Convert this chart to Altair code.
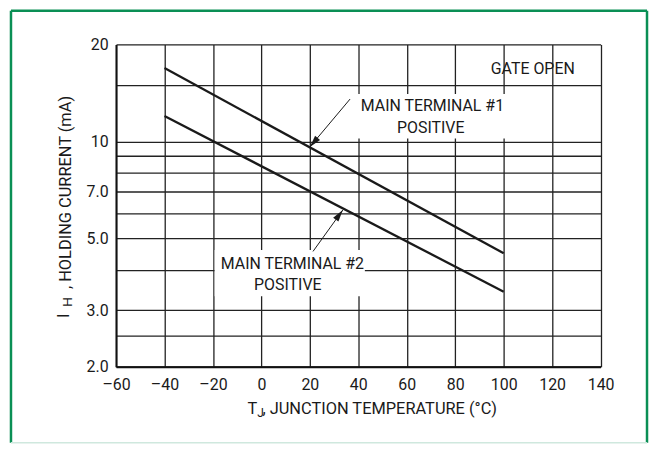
import altair as alt
import pandas as pd

# ---- data ----
temps = [-40, 100]
mt1_current = [16.9, 4.5]
mt2_current = [12.0, 3.42]

x_ticks = [-60, -40, -20, 0, 20, 40, 60, 80, 100, 120, 140]
y_grid = [2, 2.5, 3, 4, 5, 6, 7, 8, 9, 10, 15, 20]

label_text = ["GATE OPEN", "MAIN TERMINAL #1", "POSITIVE", "MAIN TERMINAL #2", "POSITIVE"]
label_t = [112.0, 70.6, 69.9, 12.8, 10.9]
label_i = [16.2, 12.39, 10.6, 4.02, 3.455]

box_t = [37.7, -19.3]
box_t2 = [101.3, 42.7]
box_i = [14.05, 4.61]
box_i2 = [10.21, 3.31]

lead_t = [36.6, 21.3]
lead_i = [13.54, 4.56]
tip_t = [20.0, 33.6]
tip_i = [9.62, 6.13]
tip_angle = [220.4, 36.2]

FONT = "Roboto"
INK = "#1a1a1a"
GREEN = "#0a8f55"

W, H = 487.6, 324.4
PAD = {"left": 108.7, "top": 35.3, "right": 48.7, "bottom": 77.3}

xs = alt.Scale(domain=[-60, 140], nice=False, zero=False)
ys = alt.Scale(type="log", domain=[2, 20], nice=False)

x_axis = alt.Axis(
    values=x_ticks, title=None, grid=True, gridColor="#222222", gridWidth=1.3,
    ticks=False, domainColor="#111111", domainWidth=2,
    labelFont=FONT, labelFontSize=16, labelColor=INK, labelPadding=10,
    labelFlush=False, labelOverlap=False,
    labelExpr="datum.value < 0 ? '\u2013' + (-datum.value) : '' + datum.value",
)
y_axis = alt.Axis(
    values=y_grid, title=None, grid=True, gridColor="#222222", gridWidth=1.3,
    ticks=False, domainColor="#111111", domainWidth=2,
    labelFont=FONT, labelFontSize=16, labelColor=INK, labelPadding=8,
    labelFlush=False, labelOverlap=False,
    labelExpr="datum.value == 20 ? '20' : datum.value == 10 ? '10' : datum.value == 7 ? '7.0' : "
              "datum.value == 5 ? '5.0' : datum.value == 3 ? '3.0' : datum.value == 2 ? '2.0' : ''",
)


def X(f="t"):
    return alt.X(f + ":Q", scale=xs, axis=x_axis)


def Y(f="i"):
    return alt.Y(f + ":Q", scale=ys, axis=y_axis)


lines_df = pd.DataFrame({
    "t": temps + temps,
    "i": mt1_current + mt2_current,
    "s": ["MT1"] * len(temps) + ["MT2"] * len(temps),
})
labels_df = pd.DataFrame({"t": label_t, "i": label_i, "txt": label_text})
boxes_df = pd.DataFrame({"t": box_t, "t2": box_t2, "i": box_i, "i2": box_i2})
leaders_df = pd.DataFrame({"t": lead_t, "i": lead_i, "t2": tip_t, "i2": tip_i})
tips_df = pd.DataFrame({"t": tip_t, "i": tip_i, "ang": tip_angle})

lines = alt.Chart(lines_df).mark_line(color=INK, strokeWidth=2.3).encode(
    x=X(), y=Y(), detail="s:N"
)
boxes = alt.Chart(boxes_df).mark_rect(fill="white", stroke=None).encode(
    x=X(), x2="t2:Q", y=Y(), y2="i2:Q"
)
labels = alt.Chart(labels_df).mark_text(
    font=FONT, fontSize=16, color=INK, align="center", baseline="alphabetic"
).encode(x=X(), y=Y(), text="txt:N")
leaders = alt.Chart(leaders_df).mark_rule(color=INK, strokeWidth=1).encode(
    x=X(), y=Y(), x2="t2:Q", y2="i2:Q"
)
tips = alt.Chart(tips_df).mark_point(
    shape="M0,0 L-0.55,2 L0.55,2 Z", size=144, filled=True, color=INK,
    opacity=1, strokeWidth=0
).encode(x=X(), y=Y(), angle=alt.Angle("ang:Q", scale=None))

one = pd.DataFrame({"k": [0]})


def ptext(txt, px, py, size=16, angle=0):
    return alt.Chart(one).mark_text(
        font=FONT, fontSize=size, color=INK, align="left", baseline="alphabetic",
        angle=angle
    ).encode(x=alt.value(px), y=alt.value(py), text=alt.value(txt))


titles = [
    ptext("T", 132.3, 371.7, size=16.5),
    ptext("J", 142.0, 375.2, size=12),
    ptext(", JUNCTION TEMPERATURE (\u00b0C)", 147.3, 371.7, size=16.5),
    ptext("I", -47.2, 275.2, size=16.5, angle=270),
    ptext("H", -44.0, 264.0, size=13.5, angle=270),
    ptext(", HOLDING CURRENT (mA)", -45.7, 246.2, size=16.5, angle=270),
]


def prule(x1, y1, x2, y2, color=GREEN, w=2.5):
    return alt.Chart(one).mark_rule(color=color, strokeWidth=w).encode(
        x=alt.value(x1), y=alt.value(y1), x2=alt.value(x2), y2=alt.value(y2)
    )


L, R, T, B = -105.7, 534.3, -33.8, 400.7
border = [
    prule(L, T, R, T),
    prule(L, T, L, B),
    prule(R, T, R, B),
    prule(L, B, R, B, color="#cfe8de", w=1.5),
]

chart = alt.layer(
    lines, boxes, labels, leaders, tips, *titles, *border
).properties(
    width=W, height=H, padding=PAD,
    autosize=alt.AutoSizeParams(type="none"),
    background="white",
).configure_view(stroke=None)

chart.save("out.html", embed_options={"renderer": "svg", "actions": False})
